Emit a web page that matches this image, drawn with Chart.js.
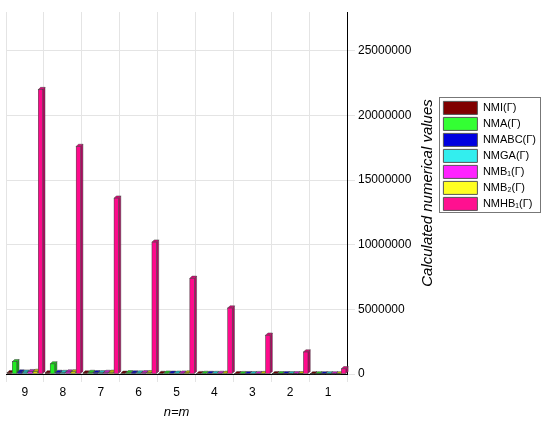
<!DOCTYPE html>
<html>
<head>
<meta charset="utf-8">
<script src="https://cdn.jsdelivr.net/npm/chart.js@4.4.1/dist/chart.umd.min.js"></script>
<style>
  body { margin: 0; background: #fff; }
</style>
</head>
<body>
<canvas id="chart" width="550" height="428"></canvas>
<script>
"use strict";

// n = m, drawn from 9 (left) down to 1 (right) like the reference
let categories = ["1", "2", "3", "4", "5", "6", "7", "8", "9"];

let seriesNames = ["NMI(Γ)", "NMA(Γ)", "NMABC(Γ)", "NMGA(Γ)", "NMB₁(Γ)", "NMB₂(Γ)", "NMHB₁(Γ)"];
let seriesColors = ["#7d0000", "#22ee22", "#0a0ad8", "#22dddd", "#e41de4", "#d8d800", "#ff0a8c"];
let legendColors = ["#800000", "#33ff33", "#0000e0", "#33eeee", "#ff22ff", "#ffff22", "#ff1090"];

let nmiValues = [5000, 12000, 20000, 30000, 42000, 55000, 70000, 85000, 100000];
let nmaValues = [6000, 15000, 28000, 45000, 65000, 90000, 120000, 780000, 950000];
let nmabcValues = [5000, 13000, 24000, 38000, 55000, 75000, 95000, 120000, 150000];
let nmgaValues = [5000, 12000, 22000, 36000, 52000, 70000, 90000, 115000, 140000];
let nmb1Values = [6000, 15000, 28000, 45000, 65000, 90000, 120000, 150000, 180000];
let nmb2Values = [7000, 18000, 32000, 52000, 75000, 100000, 130000, 165000, 200000];
let nmhb1Values = [400000, 1700000, 3000000, 5100000, 7400000, 10200000, 13600000, 17600000, 22000000];

let yTicks = [0, 5000000, 10000000, 15000000, 20000000, 25000000];
let yMax = 28000000;
let yTitle = "Calculated numerical values";

let allValues = [nmiValues, nmaValues, nmabcValues, nmgaValues, nmb1Values, nmb2Values, nmhb1Values];

let fontFamily = "'Liberation Sans', Arial, sans-serif";

function shade(hex, f) {
  let n = parseInt(hex.slice(1), 16);
  let r = Math.round(((n >> 16) & 255) * f);
  let g = Math.round(((n >> 8) & 255) * f);
  let b = Math.round((n & 255) * f);
  return "rgb(" + r + "," + g + "," + b + ")";
}

let datasets = [];
for (let i = 0; i < seriesNames.length; i++) {
  datasets.push({
    label: seriesNames[i],
    data: allValues[i],
    backgroundColor: seriesColors[i],
    borderColor: "#555",
    borderWidth: 0.5,
    barPercentage: 0.86,
    categoryPercentage: 0.96,
  });
}

// draws each bar as a small box: side and top face, then the front again
let boxBars = {
  id: "boxBars",
  afterDatasetsDraw(chart) {
    let ctx = chart.ctx;
    let items = [];
    chart.data.datasets.forEach((ds, di) => {
      let meta = chart.getDatasetMeta(di);
      meta.data.forEach((el) => {
        let p = el.getProps(["x", "y", "base", "width"], true);
        items.push({ p: p, color: seriesColors[di] });
      });
    });
    items.sort((a, b) => a.p.x - b.p.x);
    ctx.save();
    ctx.lineWidth = 0.5;
    ctx.strokeStyle = "#444";
    for (let it of items) {
      let p = it.p;
      let d = Math.max(2, p.width * 0.5);
      let l = p.x - p.width / 2;
      let r = p.x + p.width / 2;
      ctx.fillStyle = shade(it.color, 0.7);
      ctx.beginPath();
      ctx.moveTo(r, p.y);
      ctx.lineTo(r + d, p.y - d);
      ctx.lineTo(r + d, p.base - d);
      ctx.lineTo(r, p.base);
      ctx.closePath();
      ctx.fill();
      ctx.stroke();
      ctx.fillStyle = shade(it.color, 0.85);
      ctx.beginPath();
      ctx.moveTo(l, p.y);
      ctx.lineTo(l + d, p.y - d);
      ctx.lineTo(r + d, p.y - d);
      ctx.lineTo(r, p.y);
      ctx.closePath();
      ctx.fill();
      ctx.stroke();
      ctx.fillStyle = it.color;
      ctx.fillRect(l, p.y, p.width, p.base - p.y);
      ctx.strokeRect(l, p.y, p.width, p.base - p.y);
    }
    ctx.restore();
  },
};

// frame round the legend, and the value-axis title reading upwards
let extras = {
  id: "extras",
  afterDraw(chart) {
    let ctx = chart.ctx;
    let boxes = chart.legend.legendHitBoxes;
    if (boxes && boxes.length) {
      let left = Infinity, top = Infinity, right = -Infinity, bottom = -Infinity;
      for (let b of boxes) {
        left = Math.min(left, b.left);
        top = Math.min(top, b.top);
        right = Math.max(right, b.left + b.width);
        bottom = Math.max(bottom, b.top + b.height);
      }
      ctx.save();
      ctx.strokeStyle = "#777";
      ctx.lineWidth = 1;
      ctx.strokeRect(Math.round(left - 4) + 0.5, Math.round(top - 4) + 0.5, Math.round(right - left + 8), Math.round(bottom - top + 6));
      ctx.restore();
    }
    let ys = chart.scales.y;
    ctx.save();
    ctx.translate(ys.right - 13, (chart.chartArea.top + chart.chartArea.bottom) / 2);
    ctx.rotate(-Math.PI / 2);
    ctx.fillStyle = "#000";
    ctx.font = "italic 15px " + fontFamily;
    ctx.textAlign = "center";
    ctx.textBaseline = "middle";
    ctx.fillText(yTitle, 0, 0);
    ctx.restore();
  },
};

let ctx = document.getElementById("chart");
let chart = new Chart(ctx, {
  type: "bar",
  data: {
    labels: categories,
    datasets: datasets,
  },
  options: {
    responsive: false,
    animation: false,
    layout: { padding: { left: 6, top: 12, right: 4, bottom: 4 } },
    plugins: {
      legend: {
        position: "right",
        align: "start",
        title: { display: true, text: "", padding: { top: 72, bottom: 0 } },
        labels: {
          boxWidth: 34,
          boxHeight: 13,
          padding: 3,
          color: "#000",
          font: { family: fontFamily, size: 11 },
          generateLabels(chart) {
            return seriesNames.map((name, i) => ({
              text: name,
              fillStyle: legendColors[i],
              strokeStyle: "#555",
              lineWidth: 1,
              datasetIndex: i,
              fontColor: "#000",
            }));
          },
        },
      },
      tooltip: { enabled: false },
    },
    scales: {
      x: {
        reverse: true,
        grid: { color: "#e4e4e4" },
        border: { color: "#000" },
        ticks: { color: "#000", font: { family: fontFamily, size: 12 } },
        title: {
          display: true,
          text: "n=m",
          color: "#000",
          font: { family: fontFamily, size: 13, style: "italic" },
          padding: { top: 2 },
        },
      },
      y: {
        position: "right",
        min: 0,
        max: yMax,
        afterBuildTicks(axis) {
          axis.ticks = yTicks.map((v) => ({ value: v }));
        },
        grid: { color: "#e4e4e4" },
        border: { color: "#000" },
        ticks: {
          color: "#000",
          font: { family: fontFamily, size: 12 },
          callback: (v) => String(v),
        },
        // space is kept here; the text itself is drawn upwards by the extras plugin
        title: {
          display: true,
          text: yTitle,
          color: "rgba(0,0,0,0)",
          font: { family: fontFamily, size: 15, style: "italic" },
        },
      },
    },
  },
  plugins: [boxBars, extras],
});
</script>
</body>
</html>
